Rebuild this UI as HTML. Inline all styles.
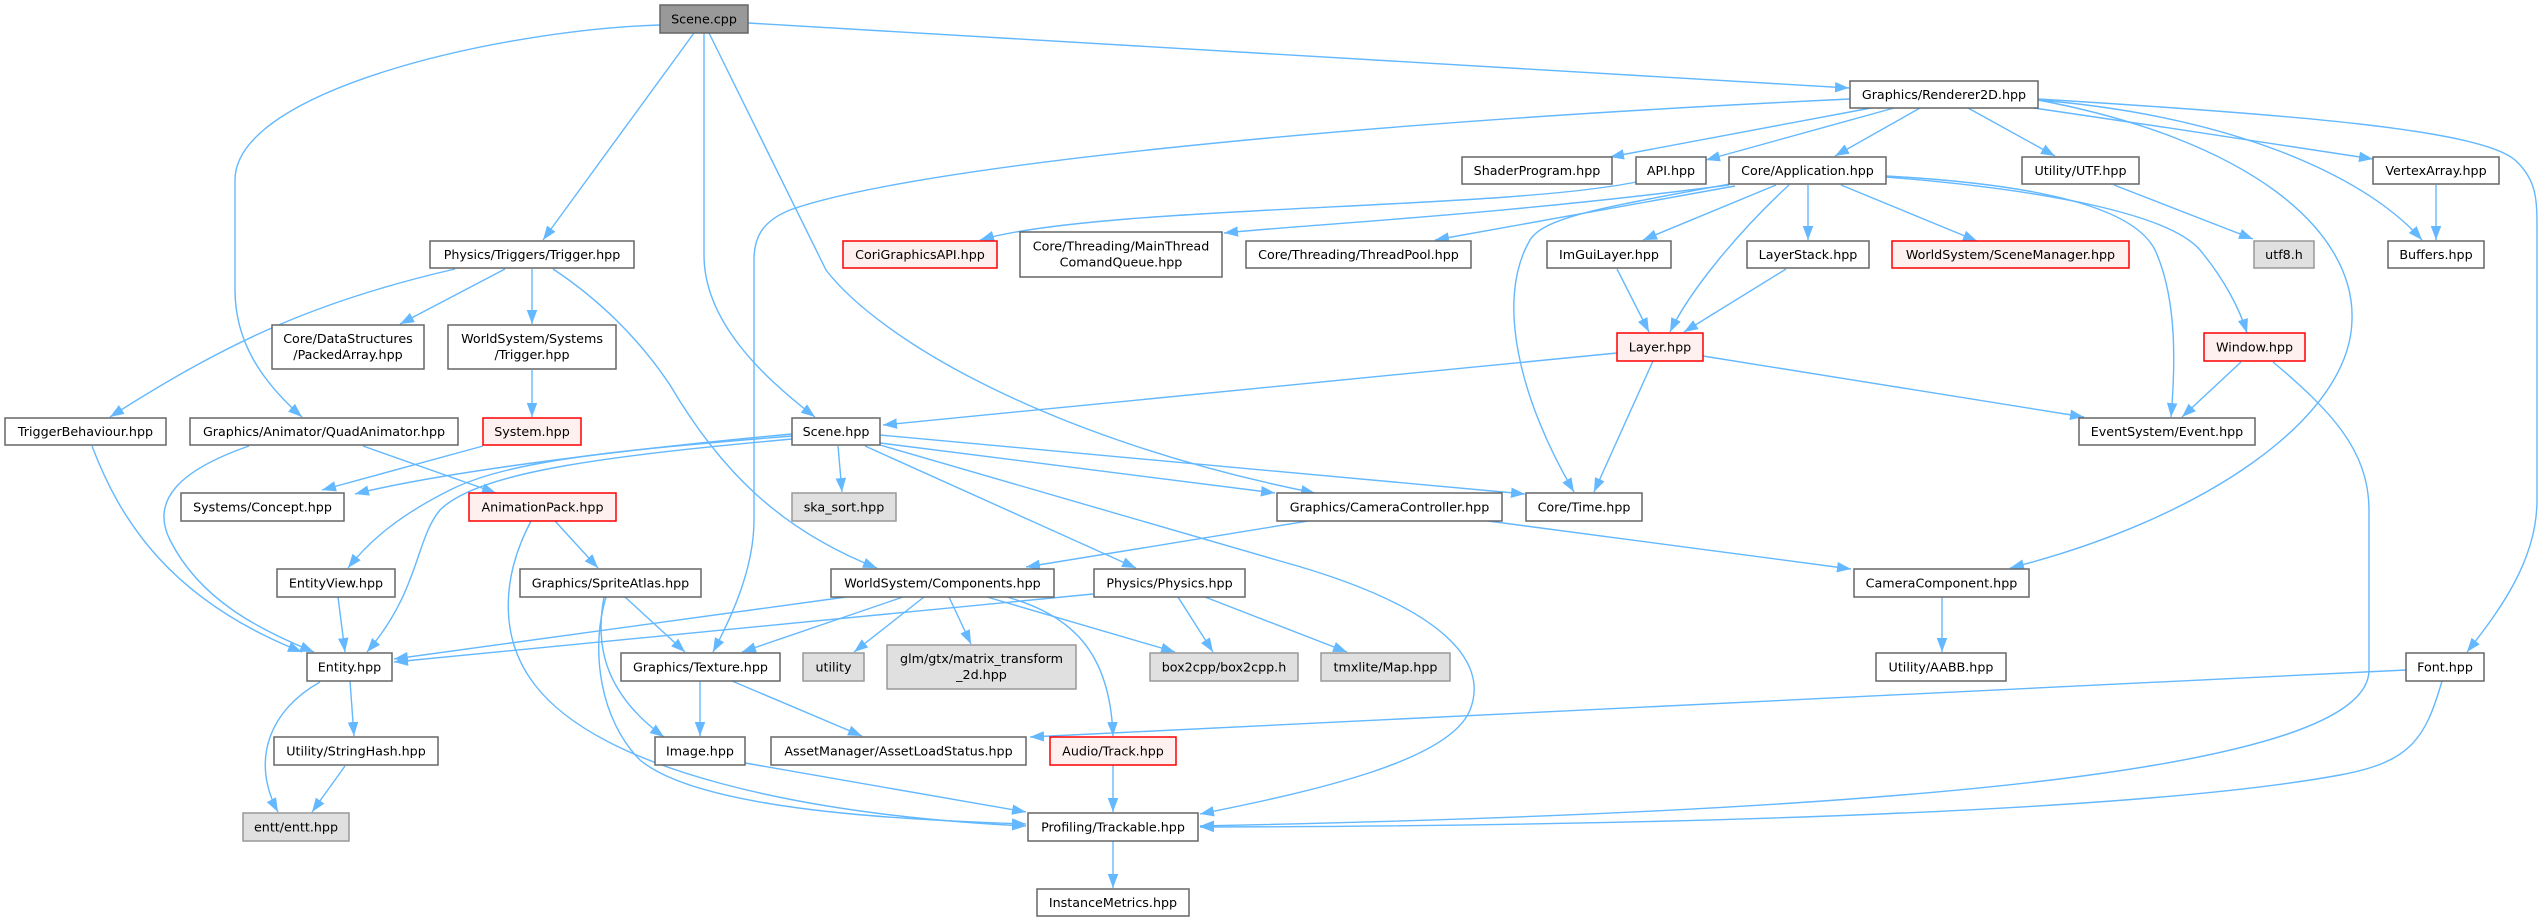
<!DOCTYPE html>
<html><head><meta charset="utf-8"><style>
html,body{margin:0;padding:0;background:#fff;}
svg{display:block;}
text{font-family:"DejaVu Sans","Liberation Sans",sans-serif;font-size:12.7px;fill:#000;text-anchor:middle;}
.e{fill:none;stroke:#63b8ff;stroke-width:1.4;marker-end:url(#ah);}
.n{fill:#fff;stroke:#666;stroke-width:1.5;}
.r{fill:#fff0f0;stroke:#ff0000;stroke-width:1.5;}
.g{fill:#e0e0e0;stroke:#999;stroke-width:1.5;}
.root{fill:#999;stroke:#666;stroke-width:1.5;}
</style></head><body>
<svg width="2544" height="922" viewBox="0 0 2544 922" xmlns="http://www.w3.org/2000/svg">
<defs><marker id="ah" markerUnits="userSpaceOnUse" markerWidth="14" markerHeight="11" refX="14" refY="5.25" orient="auto"><path d="M0,0 L14,5.25 L0,10.5 z" fill="#63b8ff"/></marker></defs>
<rect width="2544" height="922" fill="#fff"/>
<!-- edges -->
<path class="e" d="M748,23 C1200,52 1600,75 1849,88"/>
<path class="e" d="M694,33 L543,240"/>
<path class="e" d="M704,33 V255 C704,320 760,375 815,417"/>
<path class="e" d="M709,33 L826,270 C880,340 1050,440 1315,493"/>
<path class="e" d="M660,25 C500,30 235,90 235,180 L235,290 C235,340 260,380 302,417"/>
<path class="e" d="M1871,108 L1610,157"/>
<path class="e" d="M1894,108 L1706,160"/>
<path class="e" d="M1920,108 L1835,156"/>
<path class="e" d="M1968,108 L2055,156"/>
<path class="e" d="M2034,108 C2150,125 2250,140 2373,159"/>
<path class="e" d="M2038,100 C2220,115 2360,170 2422,240"/>
<path class="e" d="M2038,100 C2250,140 2355,230 2352,320 C2350,420 2200,520 2010,568"/>
<path class="e" d="M2038,99 C2300,115 2480,130 2515,160 C2537,180 2537,200 2537,230 L2537,500 C2537,560 2500,610 2467,652"/>
<path class="e" d="M1850,99 C1300,125 900,170 790,210 C760,222 754,240 754,260 L754,520 C754,570 730,620 713,652"/>
<path class="e" d="M1636,182 C1500,210 1100,205 980,240"/>
<path class="e" d="M1729,185 C1500,215 1300,225 1224,233"/>
<path class="e" d="M1735,186 L1435,240"/>
<path class="e" d="M1729,184 C1620,205 1545,215 1530,240 C1495,300 1520,400 1574,492"/>
<path class="e" d="M1776,185 L1643,240"/>
<path class="e" d="M1789,185 C1740,230 1690,290 1670,332"/>
<path class="e" d="M1808,185 L1808,240"/>
<path class="e" d="M1841,185 L1977,241"/>
<path class="e" d="M1886,176 C2050,185 2135,210 2155,250 C2178,300 2175,370 2171,417"/>
<path class="e" d="M1886,177 C2050,190 2170,215 2200,250 C2225,280 2240,310 2247,333"/>
<path class="e" d="M1617,353 L883,425"/>
<path class="e" d="M1653,361 L1594,492"/>
<path class="e" d="M1703,356 L2084,417"/>
<path class="e" d="M1617,269 L1649,332"/>
<path class="e" d="M1786,269 L1684,332"/>
<path class="e" d="M2114,185 L2253,239"/>
<path class="e" d="M2436,185 L2436,240"/>
<path class="e" d="M2241,362 L2182,417"/>
<path class="e" d="M2273,362 C2330,410 2369,450 2369,510 L2369,670 C2369,760 2000,810 1200,826"/>
<path class="e" d="M2442,681 C2425,740 2410,762 2340,775 C2150,810 1700,826 1200,827"/>
<path class="e" d="M2406,670 L1030,737"/>
<path class="e" d="M880,445 L1280,561 C1440,605 1490,660 1470,710 C1450,760 1320,790 1200,814"/>
<path class="e" d="M880,435 L1525,494"/>
<path class="e" d="M880,443 L1275,493"/>
<path class="e" d="M865,446 L1136,568"/>
<path class="e" d="M838,446 L842,492"/>
<path class="e" d="M792,434 C650,447 450,470 355,494"/>
<path class="e" d="M792,436 C620,450 510,460 450,490 C400,515 370,540 348,568"/>
<path class="e" d="M792,439 C620,455 480,470 440,510 C415,540 420,590 367,652"/>
<path class="e" d="M92,446 C120,520 170,600 302,652"/>
<path class="e" d="M249,446 C180,470 150,500 170,540 C200,600 260,630 314,652"/>
<path class="e" d="M363,446 L496,493"/>
<path class="e" d="M483,446 L322,490"/>
<path class="e" d="M555,521 L598,568"/>
<path class="e" d="M531,521 C500,580 500,640 535,685 C600,770 800,815 1026,826"/>
<path class="e" d="M606,597 C590,650 600,720 640,760 C700,810 900,820 1026,824"/>
<path class="e" d="M604,597 C596,640 600,690 664,737"/>
<path class="e" d="M625,597 L685,652"/>
<path class="e" d="M745,763 L1026,812"/>
<path class="e" d="M338,597 L345,652"/>
<path class="e" d="M846,597 L394,659"/>
<path class="e" d="M1093,594 L394,662"/>
<path class="e" d="M903,597 L742,652"/>
<path class="e" d="M924,597 L854,652"/>
<path class="e" d="M949,597 L971,644"/>
<path class="e" d="M987,597 L1175,652"/>
<path class="e" d="M1007,597 C1070,615 1110,650 1113,736"/>
<path class="e" d="M1178,597 L1213,652"/>
<path class="e" d="M1205,597 L1347,652"/>
<path class="e" d="M1308,521 L1026,567"/>
<path class="e" d="M1488,521 L1851,569"/>
<path class="e" d="M1942,597 L1942,652"/>
<path class="e" d="M700,681 L700,736"/>
<path class="e" d="M732,681 L862,736"/>
<path class="e" d="M1113,765 L1113,812"/>
<path class="e" d="M1113,841 L1113,888"/>
<path class="e" d="M350,681 L354,736"/>
<path class="e" d="M320,682 C270,710 250,760 278,812"/>
<path class="e" d="M345,766 L312,812"/>
<path class="e" d="M455,269 C320,300 230,340 110,417"/>
<path class="e" d="M505,269 L400,324"/>
<path class="e" d="M532,269 L532,324"/>
<path class="e" d="M553,269 C600,300 640,340 670,385 C720,470 780,530 877,568"/>
<path class="e" d="M532,370 L532,417"/>
<!-- nodes -->
<rect class="root" x="660" y="5" width="88" height="28"/><text x="704" y="23.5">Scene.cpp</text>
<rect class="n" x="1850" y="81" width="188" height="27"/><text x="1944" y="99">Graphics/Renderer2D.hpp</text>
<rect class="n" x="1462" y="157" width="150" height="27"/><text x="1537" y="175">ShaderProgram.hpp</text>
<rect class="n" x="1636" y="157" width="70" height="27"/><text x="1671" y="175">API.hpp</text>
<rect class="n" x="1729" y="157" width="157" height="27"/><text x="1807.5" y="175">Core/Application.hpp</text>
<rect class="n" x="2022" y="157" width="117" height="27"/><text x="2080.5" y="175">Utility/UTF.hpp</text>
<rect class="n" x="2373" y="157" width="126" height="27"/><text x="2436" y="175">VertexArray.hpp</text>
<rect class="n" x="430" y="241" width="204" height="27"/><text x="532" y="259">Physics/Triggers/Trigger.hpp</text>
<rect class="r" x="843" y="241" width="154" height="27"/><text x="920" y="259">CoriGraphicsAPI.hpp</text>
<rect class="n" x="1020" y="232" width="202" height="45"/><text x="1121" y="250.5">Core/Threading/MainThread</text><text x="1121" y="266.5">ComandQueue.hpp</text>
<rect class="n" x="1246" y="241" width="225" height="27"/><text x="1358.5" y="259">Core/Threading/ThreadPool.hpp</text>
<rect class="n" x="1547" y="241" width="124" height="27"/><text x="1609" y="259">ImGuiLayer.hpp</text>
<rect class="n" x="1747" y="241" width="122" height="27"/><text x="1808" y="259">LayerStack.hpp</text>
<rect class="r" x="1892" y="241" width="237" height="27"/><text x="2010.5" y="259">WorldSystem/SceneManager.hpp</text>
<rect class="g" x="2254" y="241" width="60" height="27"/><text x="2284" y="259">utf8.h</text>
<rect class="n" x="2388" y="241" width="96" height="27"/><text x="2436" y="259">Buffers.hpp</text>
<rect class="n" x="272" y="325" width="152" height="44"/><text x="348" y="343">Core/DataStructures</text><text x="348" y="359">/PackedArray.hpp</text>
<rect class="n" x="448" y="325" width="168" height="44"/><text x="532" y="343">WorldSystem/Systems</text><text x="532" y="359">/Trigger.hpp</text>
<rect class="r" x="1617" y="333" width="86" height="28"/><text x="1660" y="351.5">Layer.hpp</text>
<rect class="r" x="2204" y="333" width="101" height="28"/><text x="2254.5" y="351.5">Window.hpp</text>
<rect class="n" x="5" y="418" width="161" height="27"/><text x="85.5" y="436">TriggerBehaviour.hpp</text>
<rect class="n" x="190" y="418" width="268" height="27"/><text x="324" y="436">Graphics/Animator/QuadAnimator.hpp</text>
<rect class="r" x="483" y="418" width="98" height="27"/><text x="532" y="436">System.hpp</text>
<rect class="n" x="792" y="418" width="88" height="27"/><text x="836" y="436">Scene.hpp</text>
<rect class="n" x="2079" y="418" width="176" height="27"/><text x="2167" y="436">EventSystem/Event.hpp</text>
<rect class="n" x="181" y="493" width="163" height="28"/><text x="262.5" y="511.5">Systems/Concept.hpp</text>
<rect class="r" x="469" y="493" width="147" height="28"/><text x="542.5" y="511.5">AnimationPack.hpp</text>
<rect class="g" x="792" y="493" width="104" height="28"/><text x="844" y="511.5">ska_sort.hpp</text>
<rect class="n" x="1277" y="493" width="225" height="28"/><text x="1389.5" y="511.5">Graphics/CameraController.hpp</text>
<rect class="n" x="1526" y="493" width="116" height="28"/><text x="1584" y="511.5">Core/Time.hpp</text>
<rect class="n" x="277" y="569" width="118" height="28"/><text x="336" y="587.5">EntityView.hpp</text>
<rect class="n" x="520" y="569" width="181" height="28"/><text x="610.5" y="587.5">Graphics/SpriteAtlas.hpp</text>
<rect class="n" x="831" y="569" width="223" height="28"/><text x="942.5" y="587.5">WorldSystem/Components.hpp</text>
<rect class="n" x="1094" y="569" width="151" height="28"/><text x="1169.5" y="587.5">Physics/Physics.hpp</text>
<rect class="n" x="1854" y="569" width="175" height="28"/><text x="1941.5" y="587.5">CameraComponent.hpp</text>
<rect class="n" x="307" y="653" width="85" height="28"/><text x="349.5" y="671.5">Entity.hpp</text>
<rect class="n" x="621" y="653" width="159" height="28"/><text x="700.5" y="671.5">Graphics/Texture.hpp</text>
<rect class="g" x="803" y="653" width="61" height="28"/><text x="833.5" y="671.5">utility</text>
<rect class="g" x="887" y="645" width="189" height="44"/><text x="981.5" y="663">glm/gtx/matrix_transform</text><text x="981.5" y="679">_2d.hpp</text>
<rect class="g" x="1150" y="653" width="148" height="28"/><text x="1224" y="671.5">box2cpp/box2cpp.h</text>
<rect class="g" x="1321" y="653" width="129" height="28"/><text x="1385.5" y="671.5">tmxlite/Map.hpp</text>
<rect class="n" x="1876" y="653" width="130" height="28"/><text x="1941" y="671.5">Utility/AABB.hpp</text>
<rect class="n" x="2406" y="653" width="78" height="28"/><text x="2445" y="671.5">Font.hpp</text>
<rect class="n" x="274" y="737" width="164" height="28"/><text x="356" y="755.5">Utility/StringHash.hpp</text>
<rect class="n" x="655" y="737" width="90" height="28"/><text x="700" y="755.5">Image.hpp</text>
<rect class="n" x="771" y="737" width="255" height="28"/><text x="898.5" y="755.5">AssetManager/AssetLoadStatus.hpp</text>
<rect class="r" x="1050" y="737" width="126" height="28"/><text x="1113" y="755.5">Audio/Track.hpp</text>
<rect class="g" x="243" y="813" width="106" height="28"/><text x="296" y="831.5">entt/entt.hpp</text>
<rect class="n" x="1028" y="813" width="170" height="28"/><text x="1113" y="831.5">Profiling/Trackable.hpp</text>
<rect class="n" x="1037" y="889" width="152" height="27"/><text x="1113" y="907">InstanceMetrics.hpp</text>
</svg>
</body></html>
